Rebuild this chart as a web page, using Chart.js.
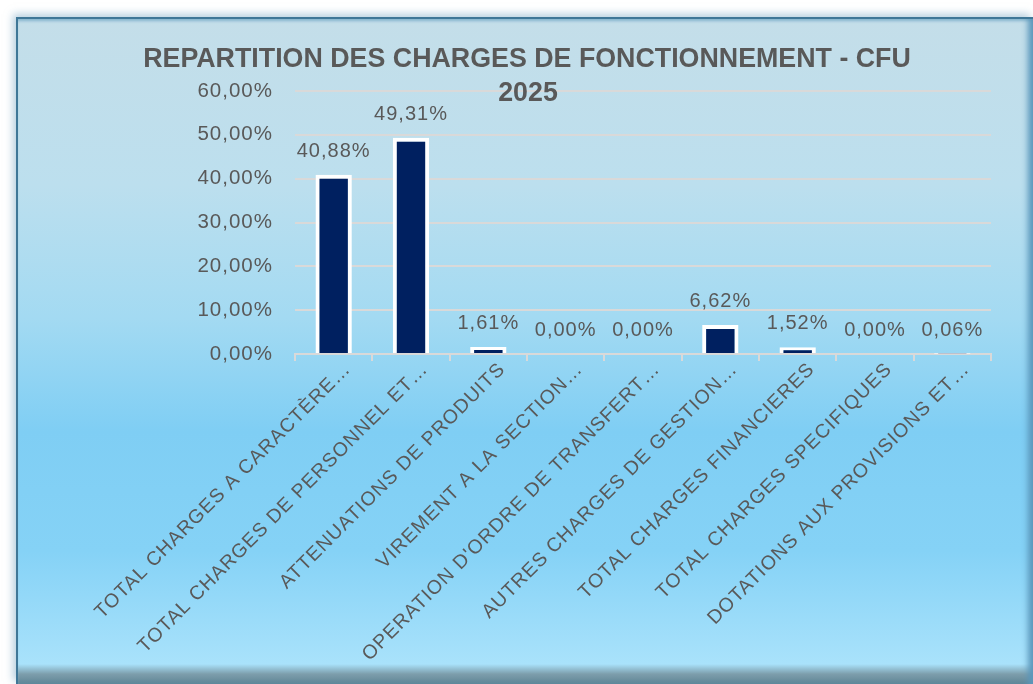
<!DOCTYPE html>
<html>
<head>
<meta charset="utf-8">
<script src="https://cdn.jsdelivr.net/npm/chart.js@4.4.1/dist/chart.umd.min.js"></script>
<style>
  html, body { margin: 0; padding: 0; background: #ffffff; }
  body { width: 1033px; height: 684px; position: relative; overflow: hidden; }
  .frame {
    position: absolute; left: 16px; top: 17px; width: 1017px; height: 667px;
    box-sizing: border-box;
    border-left: 2px solid #3f7797; border-top: 2px solid #3f7797;
    background: linear-gradient(to bottom, #c4dee9 0%, #bcdfee 25%, #a3daf2 45%, #7fcef4 62%, #85d2f6 80%, #a9e2fb 97%, #7d9eac 98.5%, #5f8595 100%);
    box-shadow: -3px -3px 8px rgba(120, 165, 195, 0.55), inset -8px 0 6px -3px #5a97bb, inset 0 3px 3px -1px #8fbbd1;
  }
  #chart { position: absolute; left: 0; top: 0; }
</style>
</head>
<body>
<div class="frame"></div>
<canvas id="chart" width="1033" height="684"></canvas>
<script>
var titleLines = ["REPARTITION DES CHARGES DE FONCTIONNEMENT - CFU", "2025"];
var categories = [
  "TOTAL CHARGES A CARACTÈRE…",
  "TOTAL CHARGES DE PERSONNEL ET…",
  "ATTENUATIONS DE PRODUITS",
  "VIREMENT A LA SECTION…",
  "OPERATION D'ORDRE DE TRANSFERT…",
  "AUTRES CHARGES DE GESTION…",
  "TOTAL CHARGES FINANCIERES",
  "TOTAL CHARGES SPECIFIQUES",
  "DOTATIONS AUX PROVISIONS ET…"
];
var shares = [40.88, 49.31, 1.61, 0, 0, 6.62, 1.52, 0, 0.06];
var yMin = 0;
var yMax = 60;
var yStep = 10;

var textColor = "#595959";
var gridColor = "#d9d9d9";

function formatPct(v) {
  return v.toFixed(2).replace(".", ",") + "%";
}

// letter spacing for axis text (canvas state, set before every draw)
const spacingPlugin = {
  id: "spacing",
  beforeDraw(chart) {
    chart.ctx.letterSpacing = "1px";
  }
};

// value labels above the bars
const valueLabels = {
  id: "valueLabels",
  afterDatasetsDraw(chart) {
    const ctx = chart.ctx;
    const meta = chart.getDatasetMeta(0);
    ctx.save();
    ctx.letterSpacing = "1px";
    ctx.font = "20px 'Liberation Sans', Arial, sans-serif";
    ctx.fillStyle = textColor;
    ctx.textAlign = "center";
    ctx.textBaseline = "alphabetic";
    meta.data.forEach((bar, i) => {
      ctx.fillText(formatPct(shares[i]), bar.x, bar.y - 18);
    });
    ctx.restore();
  }
};

// Excel-like title drawn over the plot top
const titlePlugin = {
  id: "excelTitle",
  afterDraw(chart) {
    const ctx = chart.ctx;
    ctx.save();
    ctx.letterSpacing = "0px";
    ctx.font = "bold 26.8px 'Liberation Sans', Arial, sans-serif";
    ctx.fillStyle = textColor;
    ctx.textAlign = "center";
    ctx.textBaseline = "alphabetic";
    ctx.fillText(titleLines[0], 527, 67);
    ctx.fillText(titleLines[1], 528, 101);
    ctx.restore();
  }
};

const ctx = document.getElementById("chart").getContext("2d");
new Chart(ctx, {
  type: "bar",
  data: {
    labels: categories,
    datasets: [
      {
        data: shares,
        backgroundColor: "#002060",
        borderColor: "#ffffff",
        borderWidth: 4,
        borderSkipped: "start",
        barPercentage: 0.47,
        categoryPercentage: 1
      }
    ]
  },
  options: {
    responsive: false,
    animation: false,
    layout: { padding: { top: 91, right: 42, left: 0, bottom: 0 } },
    plugins: {
      legend: { display: false },
      title: { display: false },
      tooltip: { enabled: false }
    },
    scales: {
      y: {
        min: yMin,
        max: yMax,
        afterFit: (s) => { s.width = 295; },
        ticks: {
          stepSize: yStep,
          padding: 22,
          color: textColor,
          font: { family: "'Liberation Sans', Arial, sans-serif", size: 20.5 },
          callback: (v) => formatPct(v)
        },
        grid: { color: gridColor, lineWidth: 2, drawTicks: false },
        border: { display: false }
      },
      x: {
        offset: true,
        afterFit: (s) => { s.height = 330; },
        ticks: {
          autoSkip: false,
          minRotation: 45,
          maxRotation: 45,
          padding: -3,
          labelOffset: 14,
          color: textColor,
          font: { family: "'Liberation Sans', Arial, sans-serif", size: 19.5 }
        },
        grid: {
          offset: true,
          drawOnChartArea: false,
          drawTicks: true,
          tickLength: 7,
          color: gridColor,
          lineWidth: 2
        },
        border: { display: true, color: gridColor, width: 2 }
      }
    }
  },
  plugins: [spacingPlugin, valueLabels, titlePlugin]
});
</script>
</body>
</html>
